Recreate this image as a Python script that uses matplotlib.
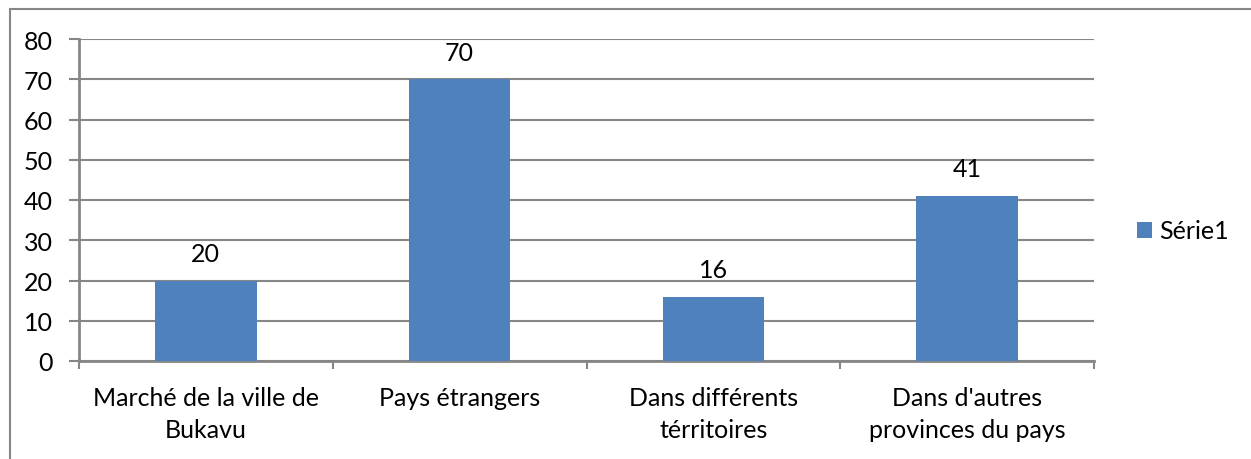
import matplotlib
matplotlib.use("Agg")
import matplotlib.pyplot as plt
from matplotlib.patches import Rectangle

categories = ["Marché de la ville de\nBukavu", "Pays étrangers", "Dans différents\ntérritoires", "Dans d'autres\nprovinces du pays"]
values = [20, 70, 16, 41]
series_name = "Série1"
yticks = [0, 10, 20, 30, 40, 50, 60, 70, 80]

plt.rcParams['font.family'] = ['Lato', 'DejaVu Sans']
fs = 18
fig = plt.figure(figsize=(12.51, 4.60), dpi=100)
ax = fig.add_axes([79/1251, 1-362/460, (1094-79)/1251, (362-40)/460])

gray = "#868686"
color = "#4F81BD"
x = list(range(len(categories)))
bars = ax.bar(x, values, width=0.4, color=color, label=series_name, zorder=3)
for xi, v in zip(x, values):
    ax.annotate(str(v), (xi, v), xytext=(0, 27), textcoords='offset pixels',
                ha='center', va='center', fontsize=fs, color='black')

ax.set_xlim(-0.5, len(categories) - 0.5)
ax.set_ylim(0, 80)
ax.set_yticks(yticks)
ax.set_yticklabels([str(t) for t in yticks], fontsize=fs)
ax.yaxis.grid(True, color=gray, linewidth=1.5, zorder=0)
ax.set_axisbelow(True)
ax.set_xticks([i - 0.5 for i in range(len(categories) + 1)], minor=False)
ax.set_xticklabels([])
ax.set_xticks(x, minor=True)
ax.set_xticklabels(categories, minor=True, fontsize=fs, linespacing=1.45)
ax.tick_params(axis='x', which='minor', length=0, pad=18)
ax.tick_params(axis='x', which='major', length=6, width=1.5, color=gray, direction='out')
ax.tick_params(axis='y', length=7, width=1.5, color=gray, direction='out', pad=12)
for s in ['top', 'right']:
    ax.spines[s].set_visible(False)
for s in ['left', 'bottom']:
    ax.spines[s].set_color(gray)
    ax.spines[s].set_linewidth(2)

leg = fig.legend(handles=[bars], labels=[series_name], loc='center left',
                 bbox_to_anchor=(1114/1251, 1-232/460), frameon=False,
                 fontsize=fs, handlelength=0.6, handleheight=0.6, handletextpad=0.3)

fig.patches.append(Rectangle((10/1251, -20/460), 1300/1251, 470/460, transform=fig.transFigure,
                             fill=False, edgecolor=gray, linewidth=1.5))
fig.savefig("out.png", dpi=100)
